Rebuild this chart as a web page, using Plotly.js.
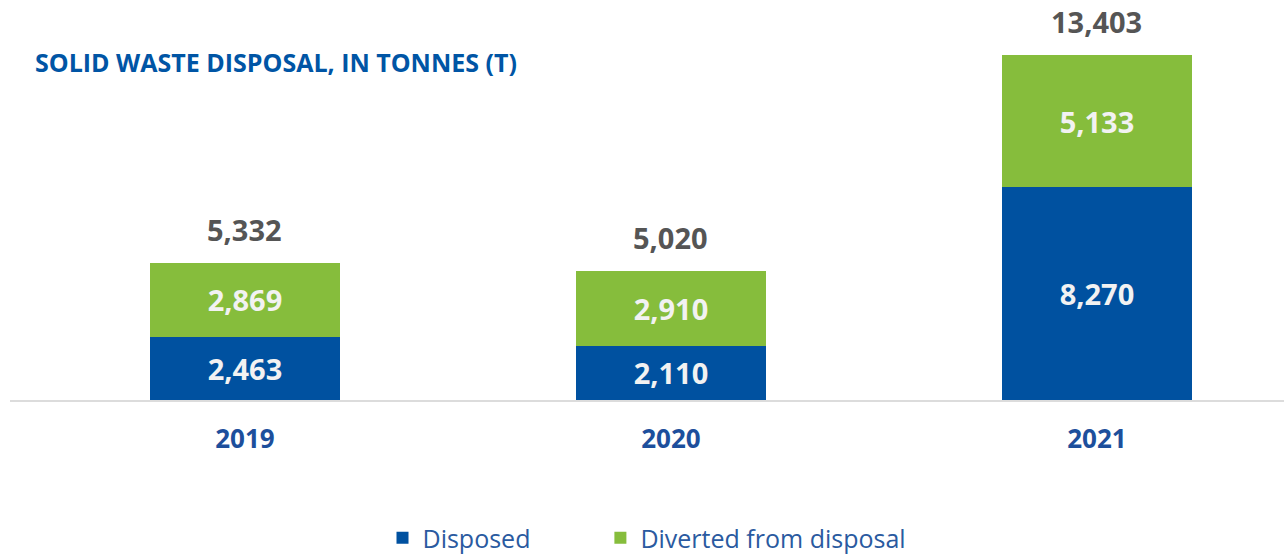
<!DOCTYPE html>
<html>
<head>
<meta charset="utf-8">
<script src="https://cdn.plot.ly/plotly-3.0.1.min.js"></script>
<style>html,body{margin:0;padding:0;background:#fff;}#chart{width:1284px;height:555px;}</style>
</head>
<body>
<div id="chart"></div>
<script>
const years = ['2019', '2020', '2021'];
const disposed = [2463, 2110, 8270];
const diverted = [2869, 2910, 5133];
const totals = [5332, 5020, 13403];
const seriesNames = ['Disposed', 'Diverted from disposal'];
const titleText = 'SOLID WASTE DISPOSAL, IN TONNES (T)';

const FONT = 'Open Sans, Noto Sans, sans-serif';
const barWidth = 0.446;

const labelFont = {family: FONT, size: 29, color: '#f2f2f2', weight: 'bold'};
const pad = '\u00a0'.repeat(10);

const traces = [
  {
    type: 'bar', name: seriesNames[0] + pad, x: years, y: disposed, width: barWidth,
    marker: {color: '#0051a0'},
    texttemplate: '%{y:,}', textposition: 'inside', insidetextanchor: 'middle',
    textfont: labelFont, hoverinfo: 'skip'
  },
  {
    type: 'bar', name: seriesNames[1], x: years, y: diverted, width: barWidth,
    marker: {color: '#86bd3c'},
    texttemplate: '%{y:,}', textposition: 'inside', insidetextanchor: 'middle',
    textfont: labelFont, hoverinfo: 'skip'
  }
];

const annotations = years.map((yr, i) => ({
  x: i, y: totals[i], xref: 'x', yref: 'y',
  text: totals[i].toLocaleString('en-US'),
  showarrow: false, yanchor: 'bottom', yshift: 12,
  font: {family: FONT, size: 29, color: '#555555', weight: 'bold'}
}));

const layout = {
  width: 1284, height: 555,
  paper_bgcolor: '#ffffff', plot_bgcolor: '#ffffff',
  margin: {l: 10, r: 0, t: 0, b: 155},
  barmode: 'stack',
  title: {
    text: titleText, xref: 'container', yref: 'container',
    x: 35 / 1284, xanchor: 'left', y: 1 - 63 / 555, yanchor: 'middle',
    font: {family: FONT, size: 25, color: '#0055a5', weight: 'bold'}
  },
  xaxis: {
    type: 'category', range: [-0.5516, 2.439],
    showline: true, linecolor: '#dcdcdc', linewidth: 2,
    showgrid: false, zeroline: false, ticks: '',
    ticklabelstandoff: 15,
    tickfont: {family: FONT, size: 26, color: '#1d4f9c', weight: 'bold'}
  },
  yaxis: {
    range: [0, 15540], visible: false, showgrid: false, zeroline: false
  },
  showlegend: true,
  legend: {
    orientation: 'h', xref: 'container', yref: 'container',
    x: 647 / 1284, xanchor: 'center', y: (555 - 538) / 555, yanchor: 'middle',
    font: {family: FONT, size: 25, color: '#2a5aa0'},
    traceorder: 'normal', itemclick: false
  },
  annotations: annotations
};

Plotly.newPlot('chart', traces, layout, {displayModeBar: false, staticPlot: true});
</script>
</body>
</html>
